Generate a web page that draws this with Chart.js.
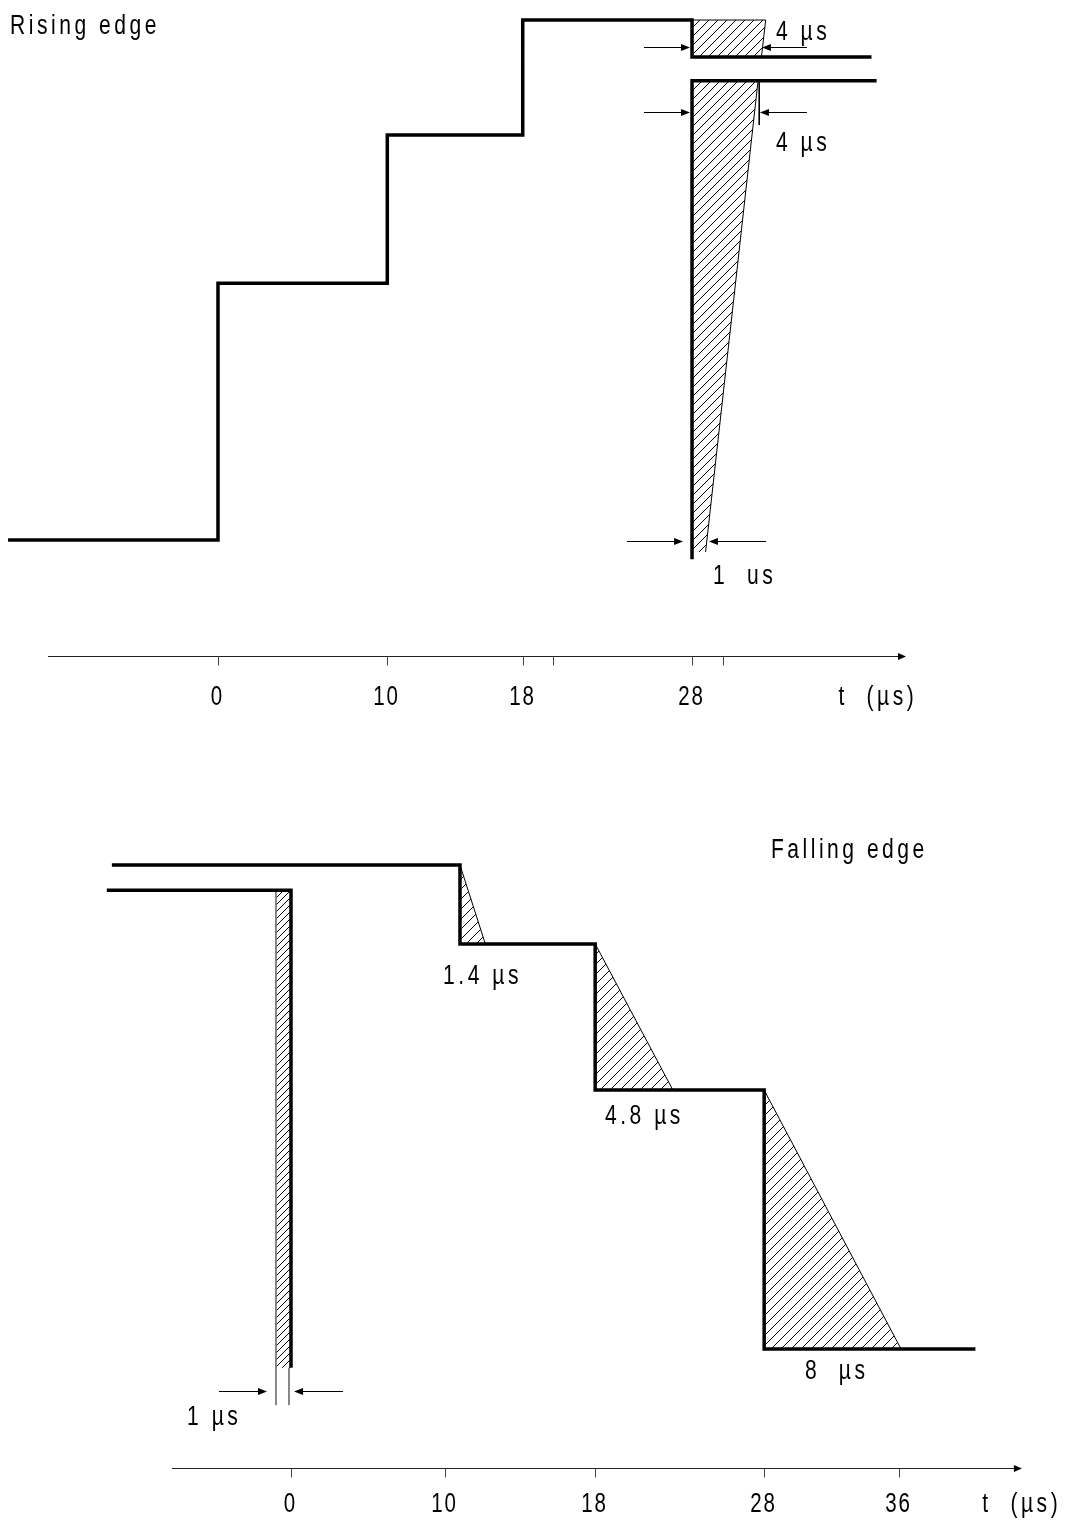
<!DOCTYPE html>
<html>
<head>
<meta charset="utf-8">
<script src="https://cdn.jsdelivr.net/npm/chart.js@4.4.1/dist/chart.umd.min.js"></script>
<style>
	body { margin: 0; background: #fff; }
	.panel { position: absolute; left: 0; width: 1067px; }
	canvas { display: block; }
</style>
</head>
<body>
<div class="panel" style="top:0;height:740px"><canvas id="rise"></canvas></div>
<div class="panel" style="top:740px;height:781px"><canvas id="fall"></canvas></div>
<script>
// rising edge (time in µs, level in arbitrary units)
const riseX = [-12.4, 0, 0, 10, 10, 18, 18, 28, 28, 38.6];
const riseY = [0, 0, 49.4, 49.4, 77.9, 77.9, 100, 100, 92.9, 92.9];
const riseEdgeX = [38.9, 28, 28];
const riseEdgeY = [88.3, 88.3, -3.7];
const riseHatchAX = [28, 28, 32.35, 32.1];
const riseHatchAY = [92.9, 100, 100, 92.9];
const riseHatchBX = [28, 28, 31.9, 28.8];
const riseHatchBY = [-2.3, 88.3, 88.3, -2.3];
const riseGuideX = [31.97, 31.97];
const riseGuideY = [88.3, 79.8];
const riseTicks = [0, 10, 18, 19.8, 28, 29.8];
const riseTickLabels = ['0', '10', '18', '', '28', ''];

// falling edge
const fallX = [-10.6, 10, 10, 18, 18, 28, 28, 40.5];
const fallY = [100, 100, 83.7, 83.7, 53.5, 53.5, 0, 0];
const fallEdgeX = [-10.9, 0, 0];
const fallEdgeY = [94.8, 94.8, -3.9];
const fallHatch1X = [10, 10, 11.5];
const fallHatch1Y = [83.7, 100, 83.7];
const fallHatch2X = [18, 18, 22.6];
const fallHatch2Y = [53.5, 83.7, 53.5];
const fallHatch3X = [28, 28, 36.1];
const fallHatch3Y = [0, 53.5, 0];
const fallStripX = [-0.89, 0, 0, -0.89];
const fallStripY = [94.8, 94.8, -3.9, -3.9];
const fallGuideLX = [-0.89, -0.89];
const fallGuideLY = [94.8, -11.6];
const fallGuideRX = [-0.12, -0.12];
const fallGuideRY = [-3.9, -11.6];
const fallTicks = [0, 9.1, 18, 28, 36];
const fallTickLabels = ['0', '10', '18', '28', '36'];

const riseNotes = [
	{ text: 'Rising edge', x: -12.28, y: 98.65 },
	{ text: '4 µs', x: 32.96, y: 97.5 },
	{ text: '4 µs', x: 32.96, y: 76.15 },
	{ text: '1  us', x: 29.24, y: -7.1 }
];
const riseArrows = [
	[25.16, 27.88, 94.8], [34.79, 32.13, 94.8],
	[25.16, 27.88, 82.3], [34.79, 32.01, 82.3],
	[24.16, 27.47, -0.19], [32.37, 29.0, -0.19]
];
const fallNotes = [
	{ text: 'Falling edge', x: 28.4, y: 102.9 },
	{ text: '1.4 µs', x: 9.0, y: 76.86 },
	{ text: '4.8 µs', x: 18.58, y: 47.93 },
	{ text: '8  µs', x: 30.41, y: -4.75 },
	{ text: '1 µs', x: -6.15, y: -14.26 }
];
const fallArrows = [
	[-4.26, -1.42, -8.68], [3.08, 0.18, -8.68]
];

const pts = (xs, ys) => xs.map((x, i) => ({ x: x, y: ys[i] }));

function makeHatch(s) {
	const c = document.createElement('canvas');
	c.width = s; c.height = s;
	const g = c.getContext('2d');
	g.strokeStyle = '#000';
	g.lineWidth = 1;
	g.beginPath();
	g.moveTo(0, s); g.lineTo(s, 0);
	g.moveTo(-1, 1); g.lineTo(1, -1);
	g.moveTo(s - 1, s + 1); g.lineTo(s + 1, s - 1);
	g.stroke();
	return g.createPattern(c, 'repeat');
}

function thick(data) {
	return { data: data, borderColor: '#000', borderWidth: 3.5, pointRadius: 0, fill: false, order: 0, borderJoinStyle: 'miter' };
}
function thin(data, color) {
	return { data: data, borderColor: color || '#000', borderWidth: 1, pointRadius: 0, fill: false, order: 1 };
}
function hatch(data, pattern, border) {
	return { data: data, borderColor: border, borderWidth: border ? 1 : 0, pointRadius: 0, fill: 'shape', backgroundColor: pattern, order: 2 };
}

// condensed, letter-spaced text like the original drawing
function drawText(ctx, str, x, y, align, squeeze, spacing) {
	ctx.save();
	ctx.font = '27px "Liberation Sans", Arial, sans-serif';
	ctx.letterSpacing = spacing + 'px';
	ctx.fillStyle = '#000';
	ctx.textBaseline = 'middle';
	const w = (ctx.measureText(str).width - spacing) * squeeze;
	const left = align === 'center' ? x - w / 2 : x;
	ctx.translate(left, y);
	ctx.scale(squeeze, 1);
	ctx.fillText(str, 0, 0);
	ctx.restore();
}

function arrow(ctx, x0, x1, y) {
	const dir = x1 > x0 ? 1 : -1;
	ctx.beginPath();
	ctx.moveTo(x0, y);
	ctx.lineTo(x1 - dir * 6, y);
	ctx.stroke();
	ctx.beginPath();
	ctx.moveTo(x1, y);
	ctx.lineTo(x1 - dir * 9, y - 3.5);
	ctx.lineTo(x1 - dir * 9, y + 3.5);
	ctx.closePath();
	ctx.fill();
}

function sketchPlugin(cfg) {
	return {
		id: 'sketch',
		afterDatasetsDraw(chart) {
			const ctx = chart.ctx;
			const xs = chart.scales.x, ys = chart.scales.y;
			ctx.save();
			ctx.strokeStyle = '#000';
			ctx.fillStyle = '#000';
			ctx.lineWidth = 1;
			cfg.arrows.forEach(a => {
				arrow(ctx, xs.getPixelForValue(a[0]), xs.getPixelForValue(a[1]), Math.round(ys.getPixelForValue(a[2])) + 0.5);
			});
			// time axis
			const ay = Math.round(ys.getPixelForValue(cfg.axisY)) + 0.5;
			const ax0 = xs.getPixelForValue(cfg.axisFrom), ax1 = xs.getPixelForValue(cfg.axisTo);
			ctx.strokeStyle = '#222';
			ctx.lineWidth = 1.2;
			ctx.beginPath();
			ctx.moveTo(ax0, ay);
			ctx.lineTo(ax1 - 4, ay);
			ctx.stroke();
			ctx.beginPath();
			ctx.moveTo(ax1, ay);
			ctx.lineTo(ax1 - 8, ay - 3.5);
			ctx.lineTo(ax1 - 8, ay + 3.5);
			ctx.closePath();
			ctx.fill();
			ctx.lineWidth = 1;
			ctx.strokeStyle = '#444';
			const ly = ys.getPixelForValue(cfg.labelY);
			cfg.ticks.forEach((t, i) => {
				const tx = Math.round(xs.getPixelForValue(t)) + 0.5;
				ctx.beginPath();
				ctx.moveTo(tx, ay);
				ctx.lineTo(tx, ay + 9);
				ctx.stroke();
				if (cfg.tickLabels[i]) drawText(ctx, cfg.tickLabels[i], tx - 2, ly, 'center', 0.76, 2.5);
			});
			drawText(ctx, 't  (µs)', xs.getPixelForValue(cfg.titleX), ly, 'center', 0.78, 4.5);
			cfg.notes.forEach(n => drawText(ctx, n.text, xs.getPixelForValue(n.x), ys.getPixelForValue(n.y), 'left', 0.78, 4.5));
			ctx.restore();
		}
	};
}

function makeChart(id, datasets, xr, yr, cfg) {
	return new Chart(document.getElementById(id), {
		type: 'line',
		data: { datasets: datasets },
		options: {
			responsive: true,
			maintainAspectRatio: false,
			animation: false,
			layout: { padding: 0 },
			elements: { line: { tension: 0 } },
			scales: {
				x: { type: 'linear', display: false, min: xr[0], max: xr[1] },
				y: { type: 'linear', display: false, min: yr[0], max: yr[1] }
			},
			plugins: { legend: { display: false }, tooltip: { enabled: false } }
		},
		plugins: [sketchPlugin(cfg)]
	});
}

window.onload = () => {
	const hatch9 = makeHatch(9);
	const hatch10 = makeHatch(10);
	const hatch7 = makeHatch(7);

	makeChart('rise', [
		thick(pts(riseX, riseY)),
		thick(pts(riseEdgeX, riseEdgeY)),
		thin(pts(riseGuideX, riseGuideY)),
		hatch(pts(riseHatchAX, riseHatchAY), hatch9, '#000'),
		hatch(pts(riseHatchBX, riseHatchBY), hatch9, '#000')
	], [-12.876, 50.148], [-38.46, 103.85], {
		arrows: riseArrows, notes: riseNotes,
		axisY: -22.31, axisFrom: -10.04, axisTo: 40.64, labelY: -30.2, titleX: 38.87,
		ticks: riseTicks, tickLabels: riseTickLabels
	});

	makeChart('fall', [
		thick(pts(fallX, fallY)),
		thick(pts(fallEdgeX, fallEdgeY)),
		thin(pts(fallGuideLX, fallGuideLY), '#777'),
		thin(pts(fallGuideRX, fallGuideRY), '#777'),
		hatch(pts(fallHatch1X, fallHatch1Y), hatch10, '#000'),
		hatch(pts(fallHatch2X, fallHatch2Y), hatch10, '#000'),
		hatch(pts(fallHatch3X, fallHatch3Y), hatch10, '#000'),
		hatch(pts(fallStripX, fallStripY), hatch7, null)
	], [-17.22, 45.92], [-35.54, 125.83], {
		arrows: fallArrows, notes: fallNotes,
		axisY: -24.59, axisFrom: -7.04, axisTo: 43.25, labelY: -32.23, titleX: 43.14,
		ticks: fallTicks, tickLabels: fallTickLabels
	});
};
</script>
</body>
</html>
